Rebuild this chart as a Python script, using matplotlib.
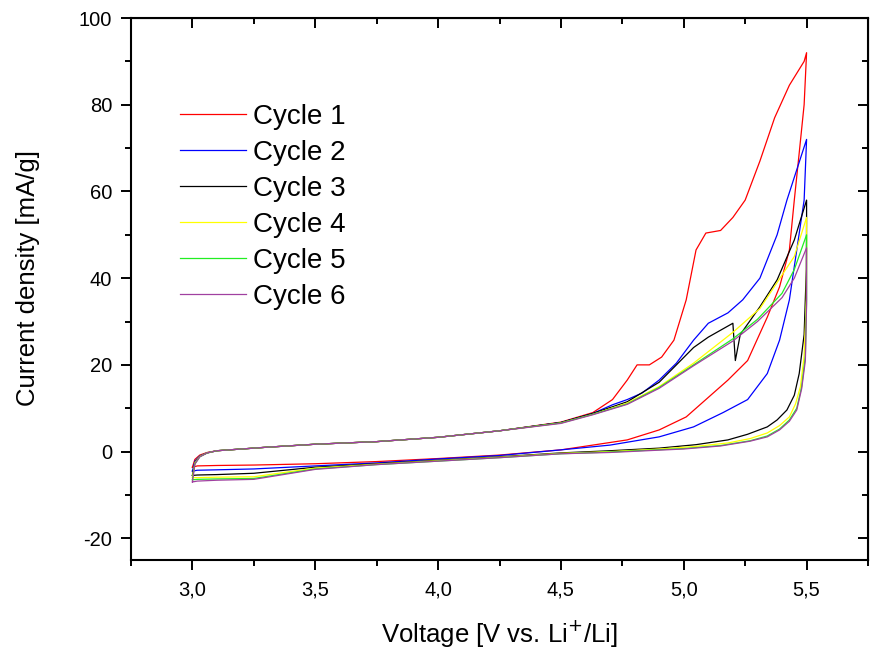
import matplotlib
matplotlib.use('Agg')
import matplotlib.pyplot as plt
from matplotlib.ticker import MultipleLocator, FuncFormatter

plt.rcParams['font.family'] = ['Liberation Sans', 'DejaVu Sans']

# cycle 1 (red)
v1 = [3.00, 3.01, 3.03, 3.06, 3.10, 3.20, 3.30, 3.50, 3.75, 4.00, 4.25, 4.50, 4.63, 4.71, 4.77,
      4.81, 4.86, 4.91, 4.96, 5.01, 5.05, 5.09, 5.15, 5.20, 5.25, 5.31, 5.37, 5.43, 5.49, 5.50,
      5.49, 5.47, 5.45, 5.43, 5.39, 5.34, 5.26, 5.18, 5.09, 5.01, 4.90, 4.77, 4.63, 4.50, 4.25,
      4.00, 3.75, 3.50, 3.25, 3.10, 3.02, 3.00]
i1 = [-3.6, -1.8, -0.8, -0.2, 0.2, 0.6, 1.0, 1.7, 2.3, 3.3, 4.8, 6.8, 9.0, 12.0, 16.5,
      20.0, 20.0, 21.8, 25.7, 35.0, 46.5, 50.4, 51.0, 54.0, 58.0, 67.0, 77.0, 84.5, 90.0, 92.0,
      80.0, 68.9, 58.0, 46.5, 38.0, 31.0, 21.0, 16.5, 12.0, 8.0, 5.0, 2.7, 1.5, 0.4, -0.8,
      -1.6, -2.3, -2.8, -3.1, -3.2, -3.3, -3.6]

# cycle 2 (blue)
v2 = [3.00, 3.01, 3.03, 3.06, 3.10, 3.20, 3.30, 3.50, 3.75, 4.00, 4.25, 4.50, 4.63, 4.71, 4.77,
      4.83, 4.90, 4.97, 5.04, 5.10, 5.18, 5.24, 5.31, 5.38, 5.42, 5.46, 5.50,
      5.49, 5.46, 5.43, 5.39, 5.34, 5.26, 5.16, 5.04, 4.90, 4.70, 4.50, 4.25,
      4.00, 3.75, 3.50, 3.25, 3.10, 3.02, 3.00]
i2 = [-4.5, -2.2, -1.0, -0.3, 0.2, 0.6, 1.0, 1.7, 2.3, 3.3, 4.8, 6.7, 8.8, 10.8, 12.0,
      13.5, 16.5, 20.4, 25.7, 29.6, 32.0, 35.0, 40.0, 50.0, 58.0, 65.0, 72.0,
      58.0, 46.5, 35.0, 25.7, 18.0, 12.0, 9.0, 5.7, 3.4, 1.5, 0.4, -0.9,
      -1.7, -2.6, -3.3, -4.0, -4.2, -4.3, -4.5]

# cycle 3 (black)
v3 = [3.00, 3.01, 3.03, 3.06, 3.10, 3.20, 3.30, 3.50, 3.75, 4.00, 4.25, 4.50, 4.63, 4.77, 4.90,
      5.04, 5.10, 5.20, 5.21, 5.22, 5.23, 5.31, 5.38, 5.45, 5.50,
      5.50, 5.499, 5.49, 5.47, 5.45, 5.42, 5.38, 5.34, 5.26, 5.18, 5.05, 4.90, 4.70, 4.50, 4.25,
      4.00, 3.75, 3.50, 3.25, 3.10, 3.02, 3.00]
i3 = [-5.5, -2.5, -1.1, -0.3, 0.2, 0.6, 1.0, 1.7, 2.3, 3.3, 4.8, 6.7, 8.8, 11.5, 16.0,
      24.0, 26.4, 29.6, 21.0, 24.0, 27.0, 33.4, 39.6, 48.8, 58.0,
      54.0, 42.0, 27.0, 18.0, 13.0, 9.6, 7.3, 5.7, 4.0, 2.7, 1.6, 0.8, 0.2, -0.3, -1.2,
      -2.0, -2.8, -3.6, -5.0, -5.3, -5.4, -5.5]

# cycle 4 (yellow)
v4 = [3.00, 3.01, 3.03, 3.06, 3.10, 3.20, 3.30, 3.50, 3.75, 4.00, 4.25, 4.50, 4.63, 4.77, 4.90,
      5.04, 5.20, 5.31, 5.45, 5.50,
      5.50, 5.499, 5.49, 5.475, 5.455, 5.43, 5.39, 5.34, 5.27, 5.18, 5.05, 4.90, 4.70, 4.50, 4.25,
      4.00, 3.75, 3.50, 3.25, 3.10, 3.02, 3.00]
i4 = [-6.0, -2.6, -1.1, -0.3, 0.2, 0.6, 1.0, 1.7, 2.3, 3.3, 4.8, 6.6, 8.6, 11.2, 15.0,
      20.4, 27.5, 33.0, 45.0, 54.0,
      45.0, 35.0, 22.0, 15.0, 11.0, 8.0, 6.0, 4.3, 3.0, 2.0, 1.2, 0.6, 0.0, -0.4, -1.3,
      -2.1, -2.9, -3.8, -5.8, -5.9, -6.0, -6.0]

# cycle 5 (green)
v5 = [3.00, 3.01, 3.03, 3.06, 3.10, 3.20, 3.30, 3.50, 3.75, 4.00, 4.25, 4.50, 4.63, 4.77, 4.90,
      5.04, 5.20, 5.30, 5.40, 5.45, 5.50,
      5.50, 5.50, 5.495, 5.48, 5.46, 5.43, 5.39, 5.34, 5.27, 5.15, 5.00, 4.85, 4.70, 4.50, 4.25,
      4.00, 3.75, 3.50, 3.25, 3.10, 3.02, 3.00]
i5 = [-6.5, -2.8, -1.2, -0.3, 0.2, 0.6, 1.0, 1.7, 2.3, 3.3, 4.8, 6.6, 8.6, 11.0, 14.8,
      20.0, 26.0, 30.5, 36.5, 42.0, 50.0,
      42.0, 35.0, 22.0, 15.0, 10.0, 7.3, 5.2, 3.6, 2.5, 1.4, 0.7, 0.3, -0.1, -0.5, -1.4,
      -2.2, -3.0, -4.0, -6.2, -6.3, -6.4, -6.5]

# cycle 6 (purple)
v6 = [3.00, 3.01, 3.03, 3.06, 3.10, 3.20, 3.30, 3.50, 3.75, 4.00, 4.25, 4.50, 4.63, 4.77, 4.90,
      5.04, 5.20, 5.30, 5.40, 5.45, 5.50,
      5.50, 5.50, 5.495, 5.48, 5.46, 5.43, 5.39, 5.34, 5.27, 5.15, 5.00, 4.85, 4.70, 4.50, 4.25,
      4.00, 3.75, 3.50, 3.25, 3.10, 3.02, 3.00]
i6 = [-7.0, -2.9, -1.2, -0.3, 0.2, 0.6, 1.0, 1.7, 2.3, 3.3, 4.8, 6.5, 8.5, 10.9, 14.6,
      19.8, 25.5, 30.0, 35.5, 40.0, 47.0,
      40.0, 34.0, 21.0, 14.5, 9.6, 7.0, 5.0, 3.4, 2.4, 1.3, 0.6, 0.2, -0.2, -0.5, -1.4,
      -2.2, -3.0, -4.1, -6.4, -6.6, -6.8, -7.0]

labels = ['Cycle 1', 'Cycle 2', 'Cycle 3', 'Cycle 4', 'Cycle 5', 'Cycle 6']
colors = ['#ff0000', '#0000ff', '#000000', '#ffff00', '#22ee22', '#a040a0']
volts = [v1, v2, v3, v4, v5, v6]
currents = [i1, i2, i3, i4, i5, i6]

fig = plt.figure(figsize=(8.71, 6.5), dpi=100)
ax = fig.add_axes([131 / 871, 1 - 560 / 650, 737 / 871, 542 / 650])

for v, i, c, lab in zip(volts, currents, colors, labels):
    ax.plot(v, i, color=c, lw=0.9, label=lab)

ax.set_xlim(2.75, 5.75)
ax.set_ylim(-25, 100)
ax.xaxis.set_major_locator(MultipleLocator(0.5))
ax.xaxis.set_minor_locator(MultipleLocator(0.25))
ax.yaxis.set_major_locator(MultipleLocator(20))
ax.yaxis.set_minor_locator(MultipleLocator(10))
ax.xaxis.set_major_formatter(FuncFormatter(lambda x, p: ('%.1f' % x).replace('.', ',')))
ax.yaxis.set_major_formatter(FuncFormatter(lambda y, p: '%d' % round(y)))
ax.tick_params(which='major', direction='out', length=7.5, width=1.4, labelsize=14.5)
ax.tick_params(axis='x', which='major', pad=7)
ax.tick_params(axis='y', which='major', pad=6)
ax.tick_params(which='minor', direction='out', length=4, width=1.4)
for s in ax.spines.values():
    s.set_linewidth(1.5)

# mirrored ticks pointing inward on top and right
top = ax.secondary_xaxis('top')
top.xaxis.set_major_locator(MultipleLocator(0.5))
top.xaxis.set_minor_locator(MultipleLocator(0.25))
top.tick_params(which='major', direction='in', length=7.5, width=1.4, labeltop=False)
top.tick_params(which='minor', direction='in', length=4, width=1.4)
right = ax.secondary_yaxis('right')
right.yaxis.set_major_locator(MultipleLocator(20))
right.yaxis.set_minor_locator(MultipleLocator(10))
right.tick_params(which='major', direction='in', length=7.5, width=1.4, labelright=False)
right.tick_params(which='minor', direction='in', length=4, width=1.4)

ax.set_xlabel('Voltage [V vs. Li$^{+}$/Li]', fontsize=18.5)
ax.set_ylabel('Current density [mA/g]', fontsize=18.5)
ax.xaxis.set_label_coords(0.5, -0.108)
ax.yaxis.set_label_coords(-0.1235, 0.521)

ax.legend(loc='upper left', bbox_to_anchor=(0.0665, 0.842), frameon=False, fontsize=20,
          handlelength=2.37, handletextpad=0.25, labelspacing=0.36, borderpad=0, borderaxespad=0)

fig.savefig('out.png', dpi=100)
